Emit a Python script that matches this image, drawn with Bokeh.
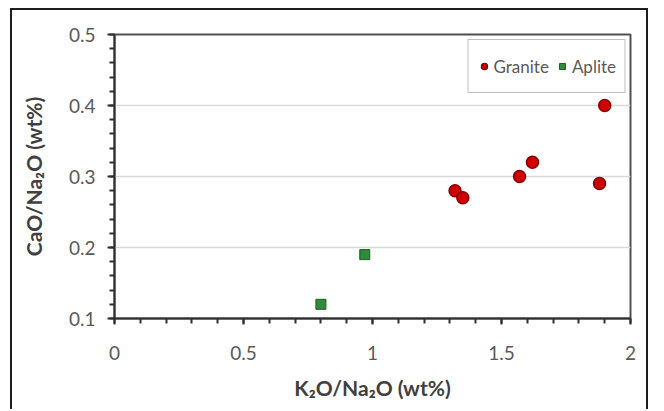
from bokeh.plotting import figure
from bokeh.models import SingleIntervalTicker, Range1d, Legend, LegendItem
from bokeh.embed import file_html
from bokeh.resources import INLINE

# ---- data ----
granite_x = [1.32, 1.35, 1.57, 1.62, 1.88, 1.90]
granite_y = [0.28, 0.27, 0.30, 0.32, 0.29, 0.40]
aplite_x = [0.80, 0.97]
aplite_y = [0.12, 0.19]
x_tick_labels = {0: "0", 0.5: "0.5", 1: "1", 1.5: "1.5", 2: "2"}
y_tick_labels = {0.1: "0.1", 0.2: "0.2", 0.3: "0.3", 0.4: "0.4", 0.5: "0.5"}
x_title = "K\u2082O/Na\u2082O (wt%)"
y_title = "CaO/Na\u2082O (wt%)"
series_names = ["Granite", "Aplite"]

FONT = "Lato"
DARK = "#404040"
GRAY = "#595959"

p = figure(width=638, height=401, output_backend="svg", toolbar_location=None,
           x_range=Range1d(0, 2), y_range=Range1d(0.1, 0.5),
           min_border_left=102, min_border_right=20, min_border_top=24, min_border_bottom=93)
p.styles = {"border-left": "2px solid #1e1e1e", "border-top": "2px solid #1e1e1e",
            "border-right": "2px solid #1e1e1e", "margin-left": "10px", "margin-top": "8px"}

p.background_fill_color = "white"
p.border_fill_color = "white"
p.outline_line_color = "#505050"
p.outline_line_width = 2

# axes
p.xaxis.ticker = SingleIntervalTicker(interval=0.5, num_minor_ticks=5)
p.yaxis.ticker = SingleIntervalTicker(interval=0.1, num_minor_ticks=5)
p.xaxis.major_label_overrides = x_tick_labels
p.yaxis.major_label_overrides = y_tick_labels
for ax in (p.xaxis, p.yaxis):
    ax.axis_line_color = "#303030"
    ax.axis_line_width = 2
    ax.major_tick_line_color = "#303030"
    ax.minor_tick_line_color = "#303030"
    ax.major_tick_line_width = 2
    ax.minor_tick_line_width = 2
    ax.major_tick_in = 0
    ax.minor_tick_in = 0
    ax.major_label_text_font = FONT
    ax.major_label_text_font_size = "19px"
    ax.major_label_text_color = GRAY
    ax.axis_label_text_font = FONT
    ax.axis_label_text_font_size = "21px"
    ax.axis_label_text_font_style = "bold"
    ax.axis_label_text_color = DARK
p.xaxis.major_tick_out = 6
p.xaxis.minor_tick_out = 5
p.yaxis.major_tick_out = 7
p.yaxis.minor_tick_out = 5
p.xaxis.major_label_standoff = 21
p.yaxis.major_label_standoff = 12
p.xaxis.axis_label = x_title
p.yaxis.axis_label = y_title
p.xaxis.axis_label_standoff = 12
p.yaxis.axis_label_standoff = 20

p.xgrid.grid_line_color = None
p.ygrid.grid_line_color = "#d9d9d9"
p.ygrid.grid_line_width = 1.5
p.ygrid.ticker = SingleIntervalTicker(interval=0.1)

r1 = p.scatter(granite_x, granite_y, marker="circle", size=12,
               fill_color="#d00000", line_color="#8b0000", line_width=1.5)
r2 = p.scatter(aplite_x, aplite_y, marker="square", size=10,
               fill_color="#2e8b3a", line_color="#1b5e20", line_width=1)

legend = Legend(items=[LegendItem(label=series_names[0], renderers=[r1]),
                       LegendItem(label=series_names[1], renderers=[r2])],
                orientation="horizontal", location="top_right")
legend.label_text_font = FONT
legend.label_text_font_size = "17px"
legend.label_text_color = GRAY
legend.border_line_color = "#808080"
legend.border_line_width = 1.5
legend.padding = 8
legend.spacing = 6
legend.margin = 5
legend.glyph_width = 15
legend.glyph_height = 36
legend.label_height = 36
legend.label_standoff = 2
p.add_layout(legend)

open("out.html", "w").write(file_html(p, INLINE))
